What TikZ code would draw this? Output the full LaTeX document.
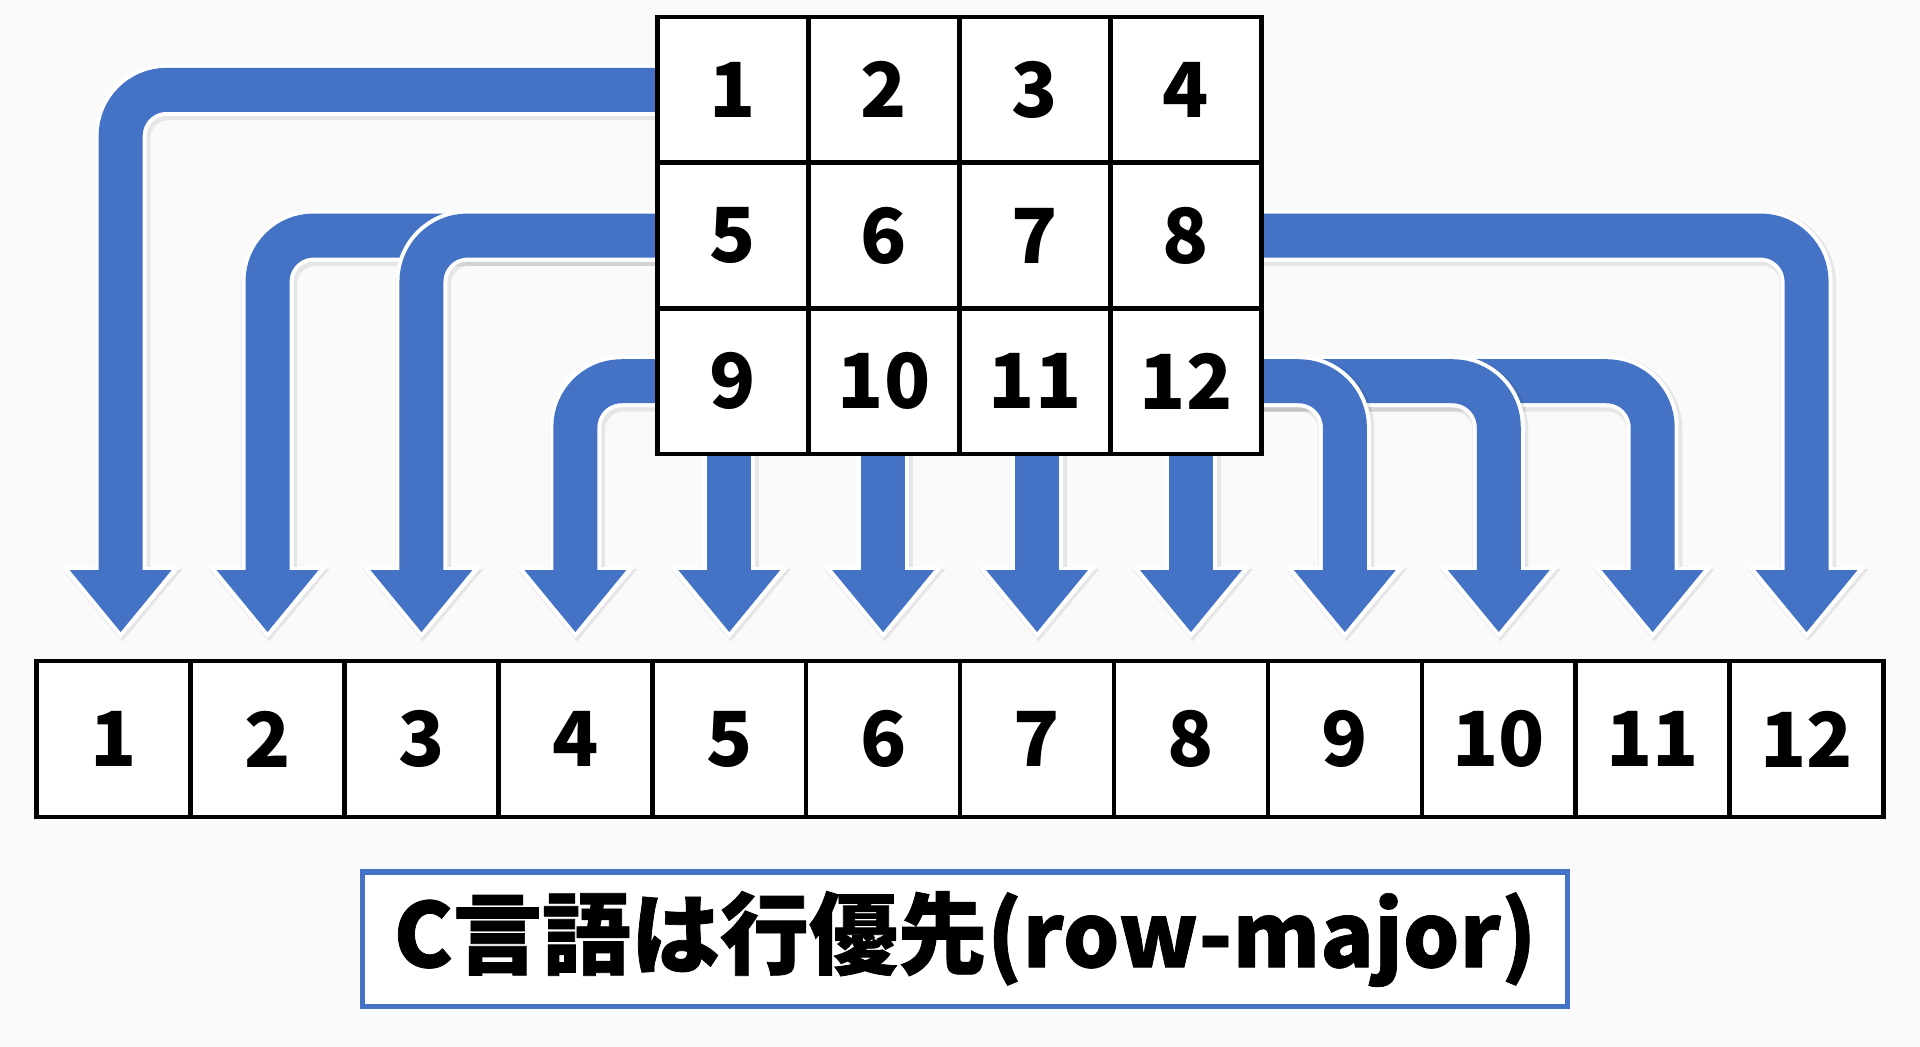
\documentclass[tikz,border=0pt]{standalone}
\usepackage{fontspec}
\newfontfamily\cjk{Noto Sans CJK JP}
\newfontfamily\cjktitle{Noto Sans CJK JP}[BoldFeatures={FakeBold=0.8}]
\usetikzlibrary{calc}
\definecolor{arrblue}{HTML}{4472C4}
\definecolor{bgcol}{HTML}{FAFAFA}
\pgfdeclarelayer{back}
\pgfdeclarelayer{arrows}
\pgfsetlayers{back,arrows,main}
\newcommand\flowarrow[2]{%
  \draw[arrshadow] #1;
  \fill[headshadow] ($(#2)+(-51,0)$) -- ($(#2)+(51,0)$) -- ($(#2)+(0,61)$) -- cycle;
  \draw[arrwhite] #1;
  \filldraw[headwhite] ($(#2)+(-51,0)$) -- ($(#2)+(51,0)$) -- ($(#2)+(0,61)$) -- cycle;
  \draw[arrbody] #1;
  \fill[headbody] ($(#2)+(-51,-1)$) -- ($(#2)+(51,-1)$) -- ($(#2)+(0,61)$) -- cycle;
}
\begin{document}
\begin{tikzpicture}[x=0.5pt,y=-0.5pt,
  gcell/.style={draw=black, fill=white, line width=2.25pt, minimum width=75.5pt, minimum height=72.85pt, inner sep=0pt, font=\cjk\bfseries\fontsize{38}{38}\selectfont},
  bcell/.style={draw=black, fill=white, line width=2.25pt, minimum width=76.95pt, minimum height=78pt, inner sep=0pt, font=\cjk\bfseries\fontsize{38}{38}\selectfont},
  titlebox/.style={draw=arrblue, fill=white, line width=2.75pt, minimum width=602.5pt, minimum height=67.25pt, inner sep=0pt, font=\cjktitle\bfseries\fontsize{44.5}{44.5}\selectfont},
  arrshadow/.style={draw=black, opacity=0.08, line width=28pt, rounded corners=23pt, transform canvas={xshift=0.8pt, yshift=-1.2pt}},
  headshadow/.style={fill=black, draw=black, line width=4.5pt, opacity=0.08, transform canvas={xshift=0.8pt, yshift=-1.2pt}},
  arrwhite/.style={draw=white, line width=26pt, rounded corners=23pt},
  headwhite/.style={fill=white, draw=white, line width=4pt},
  arrbody/.style={draw=arrblue, line width=22pt, rounded corners=23pt},
  headbody/.style={fill=arrblue}
]
\begin{pgfonlayer}{back}
\fill[bgcol] (0,0) rectangle (1920,1047);
\end{pgfonlayer}
\useasboundingbox (0,0) rectangle (1920,1047);

% bottom row
\foreach \i in {1,...,12}
  \node[bcell] (b\i) at ({36.7+153.9*(\i-0.5)},739) {\i};

% grid
\foreach \r in {1,2,3}
  \foreach \c in {1,...,4} {
    \pgfmathtruncatemacro\n{(\r-1)*4+\c}
    \node[gcell] (g\n) at ({657.5+151*(\c-0.5)},{17+145.7*(\r-0.5)}) {\n};
  }

% arrow head base points
\coordinate (h1) at ($(b1.center)+(7,-168)$);
\foreach \i in {2,...,12}
  \coordinate (h\i) at ($(b\i.center)+(0,-168)$);

\begin{pgfonlayer}{arrows}
\flowarrow{(g1.center) -| (h1)}{h1}
\flowarrow{(g5.center) -| (h2)}{h2}
\flowarrow{(g5.center) -| (h3)}{h3}
\flowarrow{(g9.center) -| (h4)}{h4}
\flowarrow{(h5 |- g9.center) -- (h5)}{h5}
\flowarrow{(h6 |- g10.center) -- (h6)}{h6}
\flowarrow{(h7 |- g11.center) -- (h7)}{h7}
\flowarrow{(h8 |- g12.center) -- (h8)}{h8}
\flowarrow{(g8.center) -| (h12)}{h12}
\flowarrow{(g12.center) -| (h11)}{h11}
\flowarrow{(g12.center) -| (h10)}{h10}
\flowarrow{(g12.center) -| (h9)}{h9}
\end{pgfonlayer}

% title
\node[titlebox] (title) at (965,939) {C言語は行優先(row-major)};
\end{tikzpicture}
\end{document}
